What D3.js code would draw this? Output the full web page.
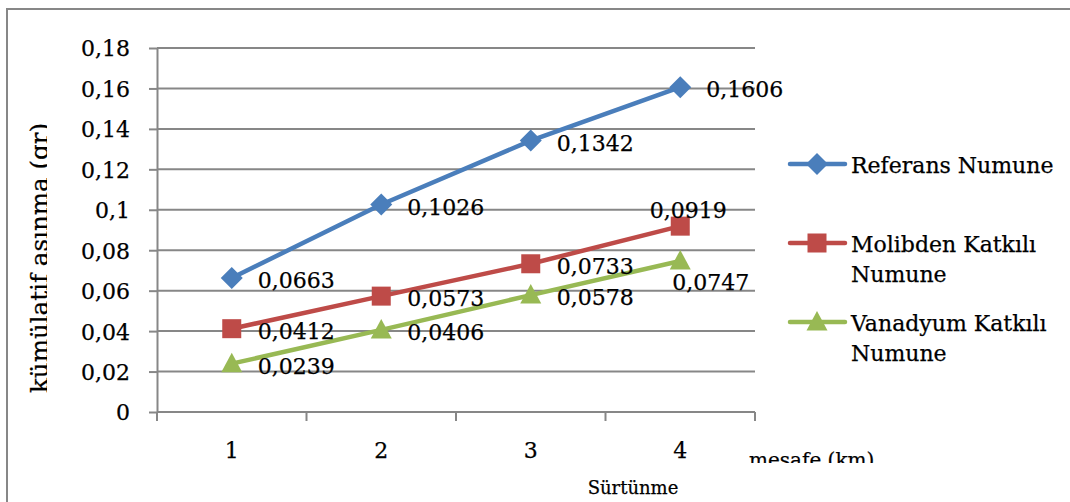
<!DOCTYPE html>
<html>
<head>
<meta charset="utf-8">
<script src="https://cdn.jsdelivr.net/npm/d3@7"></script>
<style>
  html, body { margin: 0; padding: 0; background: #fff; }
  svg { display: block; }
  text { font-family: "DejaVu Serif", serif; fill: #000; stroke: #000; stroke-width: 0.25px; }
</style>
</head>
<body>
<svg id="chart" width="1070" height="502"></svg>
<script>
// Sürtünme mesafesi (km) ve kümülatif aşınma (gr)
const categories = ["1", "2", "3", "4"];
const seriesNames = ["Referans Numune", "Molibden Katkılı Numune", "Vanadyum Katkılı Numune"];
const referans = [0.0663, 0.1026, 0.1342, 0.1606];
const molibden = [0.0412, 0.0573, 0.0733, 0.0919];
const vanadyum = [0.0239, 0.0406, 0.0578, 0.0747];
const yTicks = [0, 0.02, 0.04, 0.06, 0.08, 0.1, 0.12, 0.14, 0.16, 0.18];
const yTickLabels = ["0", "0,02", "0,04", "0,06", "0,08", "0,1", "0,12", "0,14", "0,16", "0,18"];
const valueLabels = [
  ["0,0663", "0,1026", "0,1342", "0,1606"],
  ["0,0412", "0,0573", "0,0733", "0,0919"],
  ["0,0239", "0,0406", "0,0578", "0,0747"]
];

const colors = ["#4A7EBB", "#BE4B48", "#98B954"];
const markers = ["diamond", "square", "triangle"];
const values = [referans, molibden, vanadyum];

const svg = d3.select("#chart");
const plot = { left: 157, right: 755, top: 48, bottom: 412 };
const gridColor = "#878787";

// outer frame
svg.append("path")
  .attr("d", "M7,503 L7,9 L1071,9")
  .attr("fill", "none").attr("stroke", gridColor).attr("stroke-width", 2);

const x = d3.scalePoint().domain(categories).range([plot.left, plot.right]).padding(0.5);
const y = d3.scaleLinear().domain([0, 0.18]).range([plot.bottom, plot.top]);

// horizontal gridlines
svg.append("g").selectAll("line").data(yTicks.slice(1)).join("line")
  .attr("x1", plot.left).attr("x2", plot.right)
  .attr("y1", d => y(d)).attr("y2", d => y(d))
  .attr("stroke", gridColor).attr("stroke-width", 2);

// y axis
const yAxis = d3.axisLeft(y).tickValues(yTicks)
  .tickFormat((d, i) => yTickLabels[i]).tickSize(8).tickPadding(19).tickSizeOuter(0);
const gy = svg.append("g").attr("transform", `translate(${plot.left},0)`).call(yAxis);
gy.select(".domain").attr("stroke", gridColor).attr("stroke-width", 2);
gy.selectAll(".tick line").attr("stroke", gridColor).attr("stroke-width", 2);
gy.selectAll(".tick text").attr("font-family", "DejaVu Serif").attr("font-size", 22)
  .attr("fill", "#000").attr("dy", "0.36em");

// x axis: category ticks on band boundaries
const step = x.step();
const xBounds = d3.range(categories.length + 1).map(i => plot.left + i * step);
const gx = svg.append("g");
gx.append("line").attr("x1", plot.left).attr("x2", plot.right)
  .attr("y1", plot.bottom).attr("y2", plot.bottom)
  .attr("stroke", gridColor).attr("stroke-width", 2);
gx.selectAll("line.tk").data(xBounds).join("line").attr("class", "tk")
  .attr("x1", d => d).attr("x2", d => d)
  .attr("y1", plot.bottom).attr("y2", plot.bottom + 9)
  .attr("stroke", gridColor).attr("stroke-width", 2);
gx.selectAll("text").data(categories).join("text")
  .attr("x", d => x(d)).attr("y", 458)
  .attr("text-anchor", "middle").attr("font-size", 22).text(d => d);

// axis titles
const defs = svg.append("defs");
defs.append("clipPath").attr("id", "clipY").append("rect")
  .attr("x", 0).attr("y", 0).attr("width", 47).attr("height", 502);
defs.append("clipPath").attr("id", "clipX").append("rect")
  .attr("x", 0).attr("y", 0).attr("width", 1070).attr("height", 463);

svg.append("g").attr("clip-path", "url(#clipY)")
  .append("text")
  .attr("transform", "translate(48,258) rotate(-90)")
  .attr("text-anchor", "middle")
  .attr("font-family", "'Open Sans', 'DejaVu Sans', sans-serif")
  .attr("font-size", 24)
  .attr("textLength", 270).attr("lengthAdjust", "spacingAndGlyphs")
  .text("kümülatif aşınma (gr)");

svg.append("g").attr("clip-path", "url(#clipX)")
  .append("text")
  .attr("x", 749).attr("y", 467).attr("font-size", 20)
  .text("mesafe (km)");

svg.append("text").attr("x", 633).attr("y", 494)
  .attr("text-anchor", "middle").attr("font-size", 18).text("Sürtünme");

// marker drawing
function marker(sel, type, color) {
  if (type === "diamond") {
    sel.append("path").attr("d", "M0,-11 L11,0 L0,11 L-11,0 Z").attr("fill", color);
  } else if (type === "square") {
    sel.append("rect").attr("x", -9.5).attr("y", -9.5).attr("width", 19).attr("height", 19).attr("fill", color);
  } else {
    sel.append("path").attr("d", "M0,-11 L10.5,8.5 L-10.5,8.5 Z").attr("fill", color);
  }
}

const line = d3.line().x((d, i) => x(categories[i])).y(d => y(d));

values.forEach((vals, s) => {
  const g = svg.append("g");
  g.append("path").datum(vals).attr("d", line)
    .attr("fill", "none").attr("stroke", colors[s]).attr("stroke-width", 4.5)
    .attr("stroke-linejoin", "round");
  vals.forEach((v, i) => {
    const m = g.append("g").attr("transform", `translate(${x(categories[i])},${y(v)})`);
    marker(m, markers[s], colors[s]);
  });
});

// value labels
values.forEach((vals, s) => {
  vals.forEach((v, i) => {
    const px = x(categories[i]), py = y(v);
    let lx = px + 26, ly = py + 10, anchor = "start";
    if (s === 1 && i === 3) { lx = px + 8; ly = py - 8; anchor = "middle"; }
    if (s === 2 && i === 3) { lx = px - 8; ly = py + 29; anchor = "start"; }
    svg.append("text").attr("x", lx).attr("y", ly)
      .attr("text-anchor", anchor).attr("font-size", 22)
      .text(valueLabels[s][i]);
  });
});

// legend
const legendRows = [
  { lines: ["Referans Numune"], y: 164 },
  { lines: ["Molibden Katkılı", "Numune"], y: 243 },
  { lines: ["Vanadyum Katkılı", "Numune"], y: 322 }
];
legendRows.forEach((row, s) => {
  const g = svg.append("g");
  g.append("line").attr("x1", 790).attr("x2", 845).attr("y1", row.y).attr("y2", row.y)
    .attr("stroke", colors[s]).attr("stroke-width", 4.5).attr("stroke-linecap", "round");
  const m = g.append("g").attr("transform", `translate(817,${row.y})`);
  marker(m, markers[s], colors[s]);
  row.lines.forEach((t, k) => {
    g.append("text").attr("x", 851).attr("y", row.y + 9 + k * 30)
      .attr("font-size", 22).text(t);
  });
});
</script>
</body>
</html>
